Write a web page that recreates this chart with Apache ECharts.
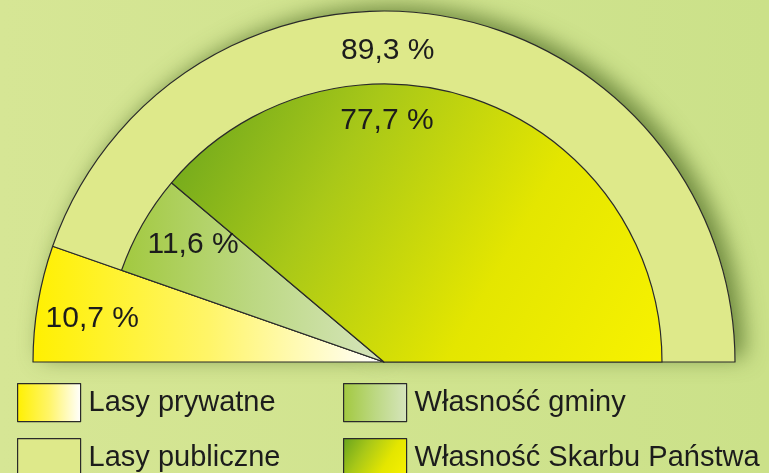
<!DOCTYPE html>
<html>
<head>
<meta charset="utf-8">
<script src="https://cdn.jsdelivr.net/npm/echarts@6/dist/echarts.min.js"></script>
<style>
  html, body { margin: 0; padding: 0; }
  #forest-chart {
    width: 769px;
    height: 473px;
    background: linear-gradient(90deg, #d6e695, #cbe189);
  }
</style>
</head>
<body>
<div id="forest-chart"></div>
<script>
// udział form własności lasów (%)
const outerNames = ["Lasy prywatne", "Lasy publiczne"];
const outerValues = [10.7, 89.3];
const innerNames = ["Własność gminy", "Własność Skarbu Państwa"];
const innerValues = [11.6, 77.7];

const center = [384, 362];
const outerR = 351;
const innerR = 278;
const lineColor = "#2a2a2a";
const font = "'Liberation Sans', Arial, sans-serif";

const grad = (x2, y2, stops) => ({
  type: "linear", x: 0, y: 0, x2: x2, y2: y2,
  colorStops: stops.map((c, i) => ({ offset: i / (stops.length - 1), color: c })),
});

const colors = {
  "Lasy prywatne": grad(1, 0, ["#fff000", "#fff568", "#ffffff"]),
  "Lasy publiczne": "#dee98a",
  "Własność gminy": grad(1, 0, ["#a2c93f", "#bcd882", "#d6e5bd"]),
  "Własność Skarbu Państwa": grad(1, 1, ["#66a31e", "#a9c818", "#e4e600", "#f8f200"]),
};

// polozenie etykiet: kat (stopnie) i promien
const labelPos = {
  "Lasy prywatne": [171.5, 295],
  "Lasy publiczne": [89.3, 311],
  "Własność gminy": [148.5, 224],
  "Własność Skarbu Państwa": [89.3, 241],
};

function fmt(p) {
  return String(p.value).replace(".", ",") + " %";
}

function makeLayout(names) {
  return function (params) {
    const n = names[params.dataIndex];
    const pos = labelPos[n];
    if (!pos) return {};
    const a = (pos[0] * Math.PI) / 180;
    return {
      x: center[0] + pos[1] * Math.cos(a),
      y: center[1] - pos[1] * Math.sin(a),
      align: "center",
      verticalAlign: "middle",
    };
  };
}

const outerData = outerNames.map((n, i) => ({
  name: n,
  value: outerValues[i],
  itemStyle: { color: colors[n] },
}));

const innerData = [
  {
    name: "_prywatne",
    value: outerValues[0],
    itemStyle: { color: "rgba(0,0,0,0)", borderWidth: 0 },
    label: { show: false },
  },
].concat(
  innerNames.map((n, i) => ({
    name: n,
    value: innerValues[i],
    itemStyle: { color: colors[n] },
  }))
);

const pieBase = {
  type: "pie",
  center: center,
  startAngle: 180,
  endAngle: 0,
  clockwise: true,
  silent: true,
  avoidLabelOverlap: false,
  emphasis: { disabled: true },
  labelLine: { show: false },
};

const legendBase = {
  orient: "vertical",
  itemWidth: 63,
  itemHeight: 38,
  icon: "rect",
  selectedMode: false,
  itemStyle: { borderColor: lineColor, borderWidth: 1.2 },
  textStyle: { fontFamily: font, fontSize: 29, color: "#1c1c1c", padding: [0, 0, 0, 3] },
};

// jedna legenda na pozycje (dwie kolumny, dwa wiersze)
const legendCols = [17, 343];
const legendRows = [383, 438];
const legends = [];
[outerNames, innerNames].forEach((names, c) => {
  names.forEach((n, r) => {
    legends.push(Object.assign({}, legendBase, {
      left: legendCols[c],
      top: legendRows[r],
      padding: 0,
      data: [n],
    }));
  });
});

const option = {
  animation: false,
  legend: legends,
  series: [
    // cien pod polkolem
    Object.assign({}, pieBase, {
      name: "cien",
      radius: [0, outerR],
      z: 1,
      label: { show: false },
      itemStyle: {
        color: "#dee98a",
        shadowBlur: 22,
        shadowColor: "rgba(70,100,30,0.7)",
        shadowOffsetX: 9,
        shadowOffsetY: -5,
      },
      data: outerNames.map((n, i) => ({ name: "_" + n, value: outerValues[i] })),
    }),
    Object.assign({}, pieBase, {
      name: "Lasy",
      radius: [0, outerR],
      z: 2,
      itemStyle: { borderColor: lineColor, borderWidth: 1.2 },
      label: {
        show: true,
        position: "inside",
        formatter: fmt,
        fontFamily: font,
        fontSize: 30,
        color: "#1c1c1c",
      },
      labelLayout: makeLayout(outerNames),
      data: outerData,
    }),
    Object.assign({}, pieBase, {
      name: "Struktura lasów publicznych",
      radius: [0, innerR],
      z: 3,
      itemStyle: { borderColor: lineColor, borderWidth: 1.2 },
      label: {
        show: true,
        position: "inside",
        formatter: fmt,
        fontFamily: font,
        fontSize: 30,
        color: "#1c1c1c",
      },
      labelLayout: makeLayout(["_prywatne"].concat(innerNames)),
      data: innerData,
    }),
  ],
};

const myChart = echarts.init(document.getElementById("forest-chart"));
myChart.setOption(option);
</script>
</body>
</html>
